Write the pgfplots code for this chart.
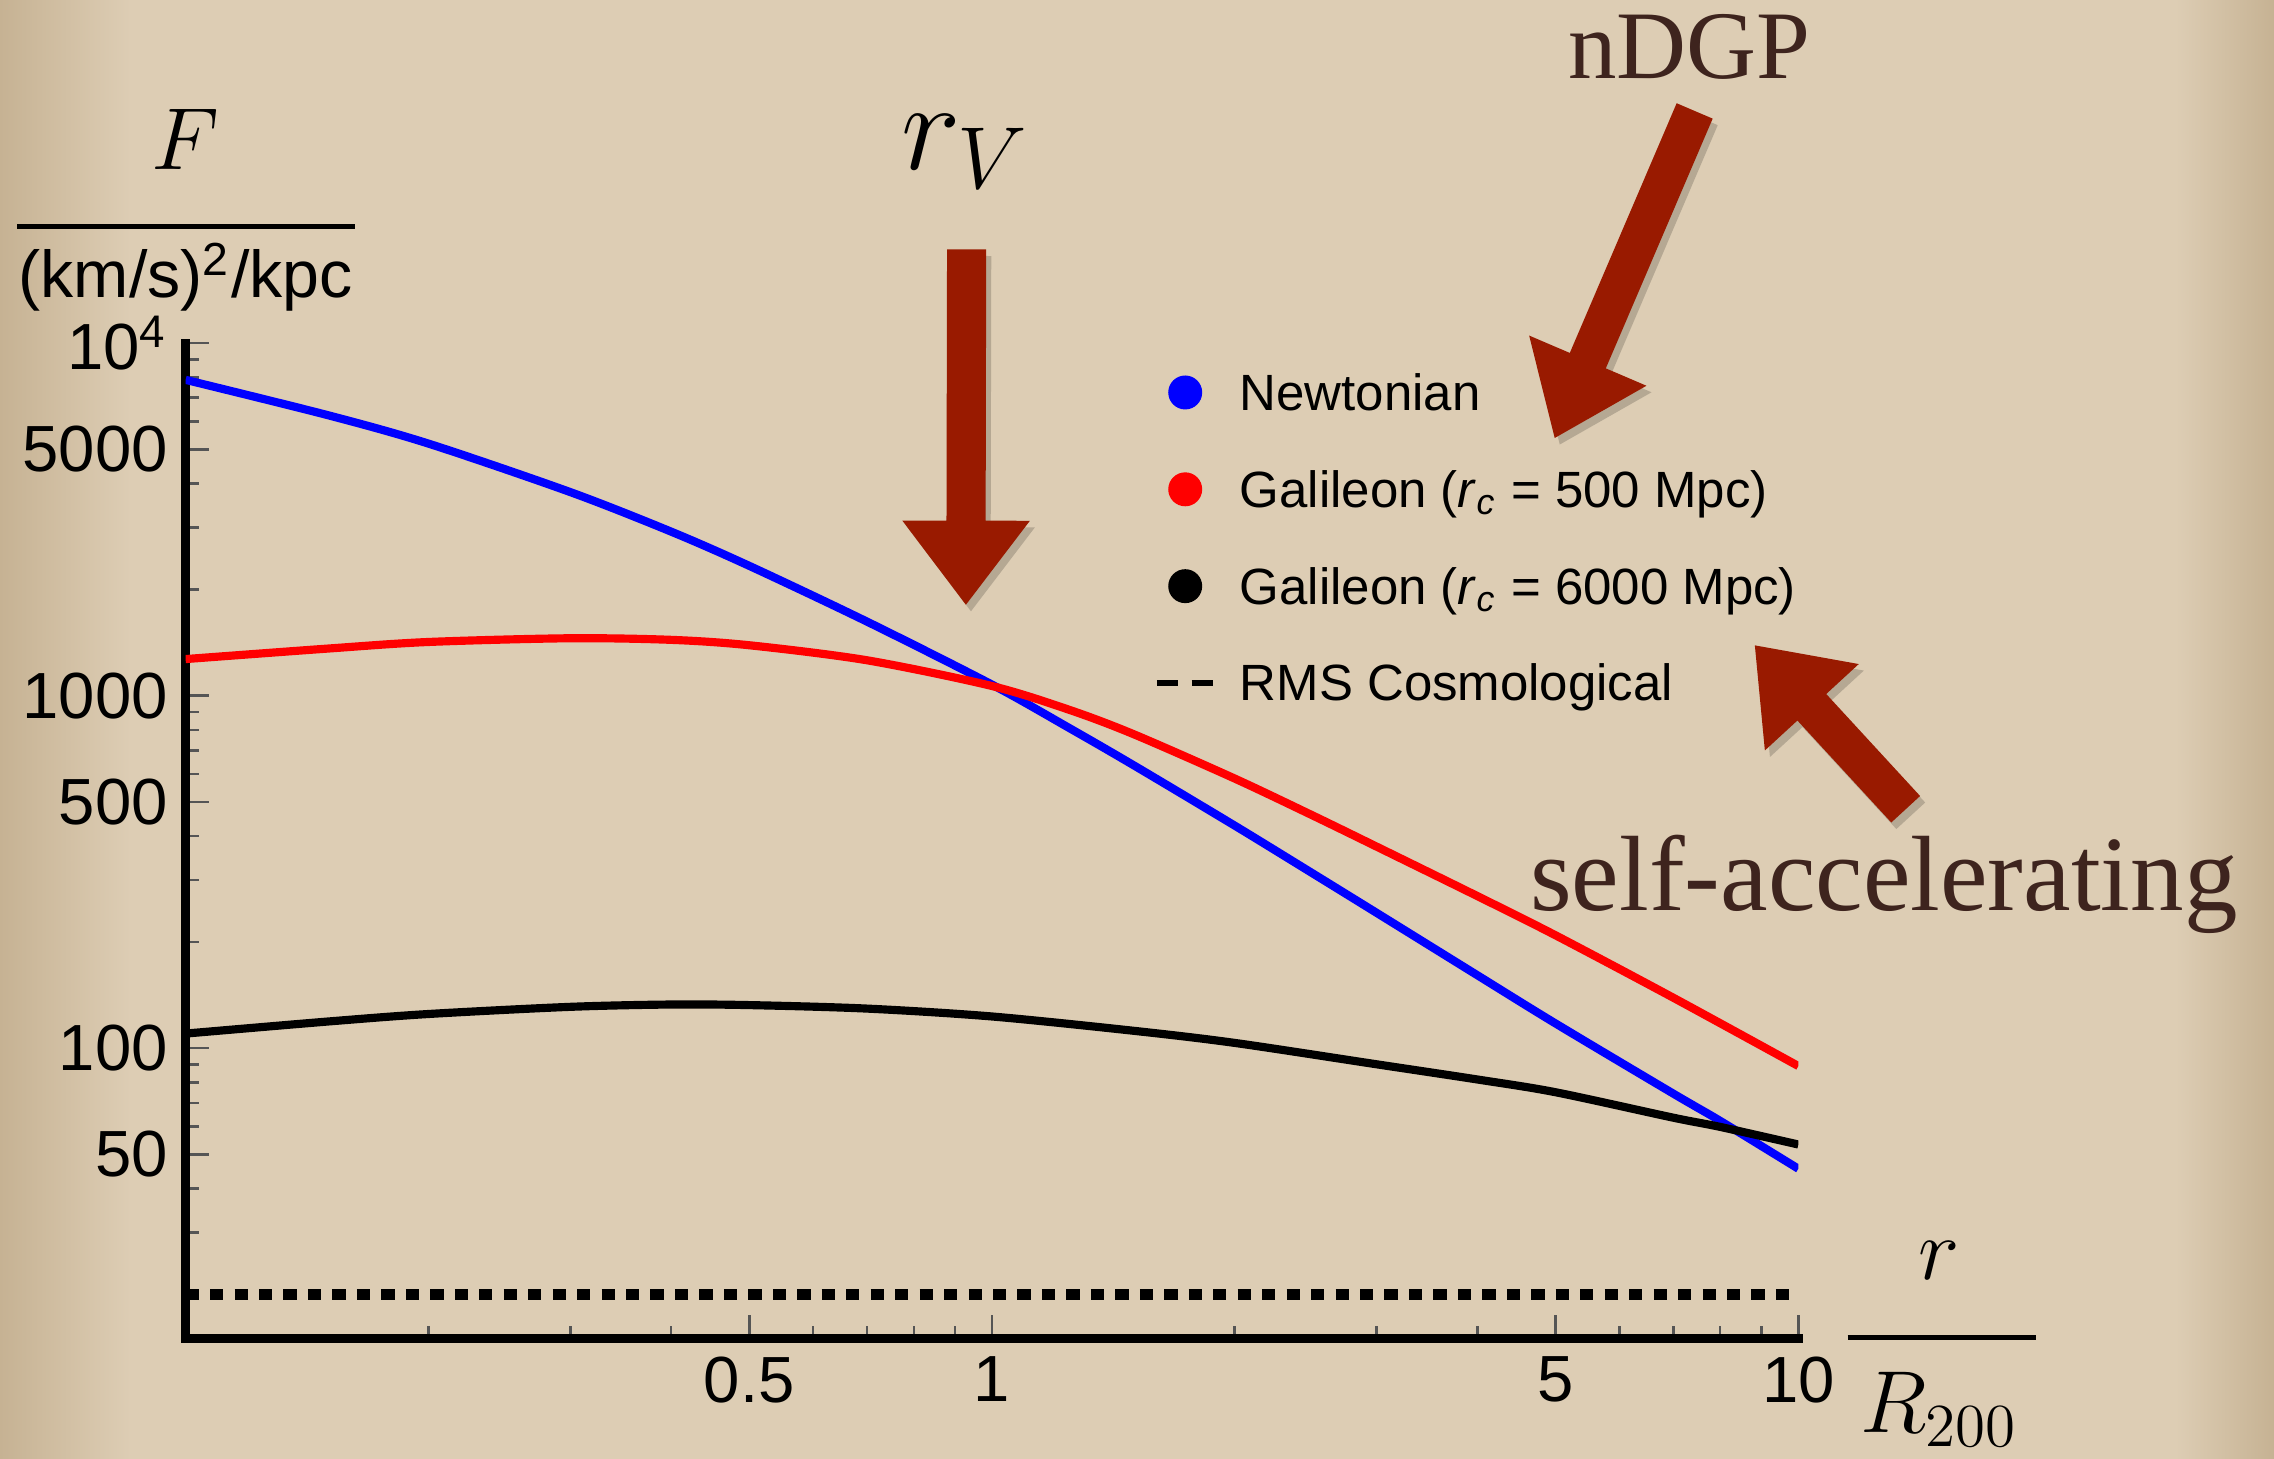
\documentclass[border=0pt]{standalone}
\usepackage{fontspec}
\setmainfont{Liberation Sans}
\newfontfamily\handfont{Liberation Serif}
\usepackage{pgfplots}
\pgfplotsset{compat=1.18}
\usetikzlibrary{calc,shadows}
\definecolor{parch}{RGB}{221,205,180}
\definecolor{parchdark}{RGB}{198,178,147}
\definecolor{arrowred}{RGB}{153,26,0}
\definecolor{inkbrown}{RGB}{62,36,30}
\definecolor{tickgray}{RGB}{85,85,85}

% block arrow: #1 tail, #2 tip (picture units)
\newcommand{\bigarrow}[2]{%
  \coordinate (T) at (#1);
  \coordinate (P) at (#2);
  \coordinate (H) at ($(P)!5.8mm!(T)$);
  \fill[arrowred, drop shadow={shadow xshift=0.35mm, shadow yshift=-0.45mm, opacity=0.18, fill=black}]
    ($(T)!1.35mm!90:(P)$) -- ($(H)!1.35mm!90:(P)$) -- ($(H)!4.4mm!90:(P)$) -- (P)
    -- ($(H)!4.4mm!-90:(P)$) -- ($(H)!1.35mm!-90:(P)$) -- ($(T)!1.35mm!-90:(P)$) -- cycle;
}

\pgfplotsset{panel/.style={at={(12.8mm,8.3mm)}, anchor=south west,
  scale only axis, width=111.2mm, height=68.64mm}}

\begin{document}
\begin{tikzpicture}
  \path[use as bounding box] (0,0) rectangle (156.8mm,100.6mm);
  \begin{scope}[x=0.1mm, y=0.1mm]
    \fill[parch] (0,0) rectangle (1568,1006);
    \shade[left color=parchdark, right color=parch] (0,0) rectangle (90,1006);
    \shade[left color=parch, right color=parchdark] (1500,0) rectangle (1568,1006);
  \end{scope}

  \begin{axis}[
    panel,
    xmode=log, ymode=log,
    xmin=0.1, xmax=10, ymin=15, ymax=10000,
    axis x line*=bottom, axis y line*=left,
    axis line style={line width=1.8pt, black, line cap=rect},
    xtick={0.5,1,5,10}, xticklabels={0.5,1,5,10},
    minor xtick={0.2,0.3,0.4,0.6,0.7,0.8,0.9,2,3,4,6,7,8,9},
    ytick={50,100,500,1000,5000,10000},
    yticklabels={50,100,500,1000,5000,10\textsuperscript{4}},
    minor ytick={20,30,40,60,70,80,90,200,300,400,600,700,800,900,2000,3000,4000,6000,7000,8000,9000},
    tick align=inside,
    major tick length=1.6mm, minor tick length=0.9mm,
    tick style={tickgray, line width=0.5pt},
    tick label style={font=\fontsize{12.8}{14}\selectfont},
  ]
    % Newtonian
    \addplot[blue, line width=1.6pt, smooth]
      coordinates {(0.1,7870) (0.15,6250) (0.2,5190) (0.3,3780) (0.4,2920) (0.5,2335)
        (0.7,1622) (1,1075) (1.25,807) (1.5,634) (2,428) (2.5,313) (3,242) (4,161)
        (5,117.5) (7,74.3) (8,62.2) (10,45.5)};
    % Galileon rc = 500 Mpc
    \addplot[red, line width=1.6pt, smooth]
      coordinates {(0.1,1270) (0.15,1360) (0.2,1420) (0.3,1455) (0.4,1440) (0.5,1390)
        (0.7,1260) (1,1065) (1.25,910) (1.5,777) (2,582) (2.5,457) (3,373) (4,270)
        (5,209) (7,139) (10,89)};
    % Galileon rc = 6000 Mpc
    \addplot[black, line width=1.6pt, smooth]
      coordinates {(0.1,110) (0.15,119) (0.2,125) (0.3,131) (0.4,133) (0.5,132.5)
        (0.7,129.5) (1,123) (1.5,112) (2,103.5) (3,90) (4,81.5) (5,75) (7,63.5) (8,59.8) (10,53.3)};
    % RMS cosmological
    \addplot[black, line width=2.1pt, dash pattern=on 2.6pt off 2.2pt]
      coordinates {(0.1,20) (10,20)};
  \end{axis}

  % legend, in a plain overlay axis
  \begin{axis}[
    panel, hide axis,
    xmin=0, xmax=1, ymin=0, ymax=1,
    legend cell align=left,
    legend style={draw=none, fill=none, inner sep=0pt, outer sep=0pt,
      at={(axis description cs:0.6007,0.9786)}, anchor=north west,
      row sep=8pt, column sep=1.7mm,
      nodes={inner sep=0pt, outer sep=0pt, text height=9pt, text depth=2pt},
      font=\fontsize{10}{12}\selectfont},
  ]
    \addlegendimage{legend image code/.code={\path[draw=none,fill=none] (0,-1mm) rectangle (4mm,1mm); \fill[blue] (1.95mm,0) circle (1.1mm);}}
    \addlegendentry{Newtonian}
    \addlegendimage{legend image code/.code={\path[draw=none,fill=none] (0,-1mm) rectangle (4mm,1mm); \fill[red] (1.95mm,0) circle (1.1mm);}}
    \addlegendentry{Galileon (\textit{r}\textsubscript{\textit{c}} = 500 Mpc)}
    \addlegendimage{legend image code/.code={\path[draw=none,fill=none] (0,-1mm) rectangle (4mm,1mm); \fill[black] (1.95mm,0) circle (1.1mm);}}
    \addlegendentry{Galileon (\textit{r}\textsubscript{\textit{c}} = 6000 Mpc)}
    \addlegendimage{legend image code/.code={\path[draw=none,fill=none] (0,-1mm) rectangle (4mm,1mm); \draw[black, line width=1pt, dash pattern=on 1.45mm off 0.95mm] (0,0) -- (3.84mm,0);}}
    \addlegendentry{RMS Cosmological}
  \end{axis}

  \begin{scope}[x=0.1mm, y=0.1mm]
    % y label as a fraction
    \node[anchor=base, font=\fontsize{17}{20}\selectfont] at (128,889) {$F$};
    \draw[line width=1pt] (12,850) -- (245,850);
    \node[anchor=base, font=\fontsize{13}{15}\selectfont] at (128,801) {(km/s)\textsuperscript{2}/kpc};

    % x label as a fraction
    \node[anchor=base, font=\fontsize{18}{21}\selectfont] at (1337,124) {$r$};
    \draw[line width=1pt] (1274,84) -- (1404,84);
    \node[anchor=base, font=\fontsize{18}{21}\selectfont] at (1337,18) {$R_{200}$};

    % annotations
    \node[anchor=base, font=\fontsize{25}{30}\selectfont] at (666,889) {$r_V$};
    \bigarrow{666.5,834}{666,589}
    \node[anchor=base, inkbrown, font=\handfont\fontsize{19}{24}\selectfont] at (1165,952) {nDGP};
    \bigarrow{1168.5,929.5}{1072,704}
    \node[anchor=base, inkbrown, font=\handfont\fontsize{21}{24}\selectfont] at (1299,378) {self-accelerating};
    \bigarrow{1314,448}{1210,561}
  \end{scope}
\end{tikzpicture}
\end{document}
